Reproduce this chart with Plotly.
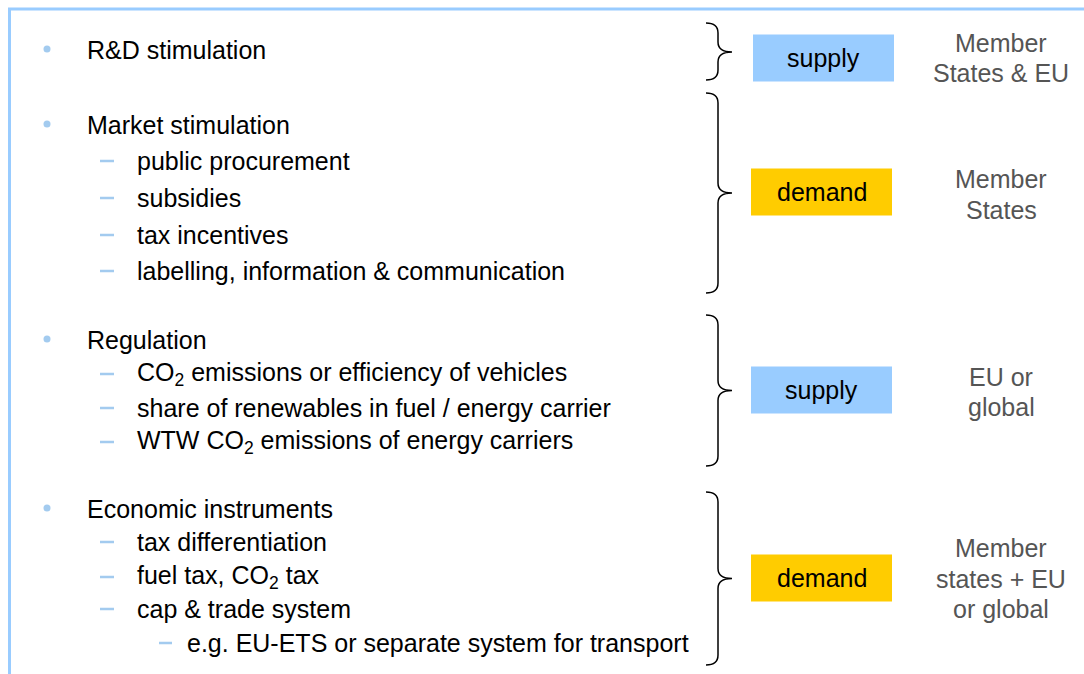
import plotly.graph_objects as go

# ---- content ----
groups = ["R&D stimulation", "Market stimulation", "Regulation", "Economic instruments"]
sub_items = [
    [],
    [("public procurement", 2), ("subsidies", 2), ("tax incentives", 2),
     ("labelling, information & communication", 2)],
    [("CO<sub>2</sub> emissions or efficiency of vehicles", 2),
     ("share of renewables in fuel / energy carrier", 2),
     ("WTW CO<sub>2</sub> emissions of energy carriers", 2)],
    [("tax differentiation", 2), ("fuel tax, CO<sub>2</sub> tax", 2),
     ("cap & trade system", 2), ("e.g. EU-ETS or separate system for transport", 3)],
]
box_labels = ["supply", "demand", "supply", "demand"]
scope_labels = [["Member", "States & EU"], ["Member", "States"], ["EU or", "global"],
                ["Member", "states + EU", "or global"]]

# ---- layout geometry (pixel space of the canvas) ----
W, H = 1084, 674
group_y = [50, 125, 340, 509]
sub_y = [[], [161, 198, 235, 271], [374, 408, 442], [542, 577, 609, 643]]
brace_span = [(23, 80), (93, 293), (315, 466), (492, 665)]
box_x = [(753, 894), (751, 892), (751, 892), (751, 892)]
box_mid = [58, 192, 390, 578]
scope_line_y = [[43, 73], [179, 210], [377, 407], [548, 579, 609]]

BLUE = "#99CCFF"
BULLET = "#A3CBEF"
GOLD = "#FFCC00"
FONT = "Liberation Sans, Arial, sans-serif"
FS = 25

fig = go.Figure()
shapes = []
ann = []

# frame
shapes.append(dict(type="line", x0=8, x1=W, y0=9, y1=9, line=dict(color=BLUE, width=3)))
shapes.append(dict(type="line", x0=9.5, x1=9.5, y0=8, y1=H, line=dict(color=BLUE, width=3)))

bx, by = [], []
for gi, g in enumerate(groups):
    y = group_y[gi]
    bx.append(47); by.append(y - 1)
    ann.append(dict(x=85, y=y, text=g, xanchor="left", yanchor="middle",
                    font=dict(size=FS, color="#000000", family=FONT)))
    for (txt, lvl), sy in zip(sub_items[gi], sub_y[gi]):
        if lvl == 2:
            dx0, dx1, tx = 100, 114, 135
        else:
            dx0, dx1, tx = 159, 172, 185
        shapes.append(dict(type="line", x0=dx0, x1=dx1, y0=sy, y1=sy,
                           line=dict(color=BULLET, width=2.5)))
        ann.append(dict(x=tx, y=sy, text=txt, xanchor="left", yanchor="middle",
                        font=dict(size=FS, color="#000000", family=FONT)))

    # brace
    y0, y1 = brace_span[gi]
    ym = (y0 + y1) / 2 if gi != 0 else 52
    xl, xv, xt = 706, 718, 732
    r = 10
    path = (f"M {xl},{y0} Q {xv},{y0} {xv},{y0 + r} L {xv},{ym - r} "
            f"Q {xv},{ym} {xt},{ym} Q {xv},{ym} {xv},{ym + r} "
            f"L {xv},{y1 - r} Q {xv},{y1} {xl},{y1}")
    shapes.append(dict(type="path", path=path, line=dict(color="#000000", width=1.5)))

    # box
    xa, xb = box_x[gi]
    col = BLUE if box_labels[gi] == "supply" else GOLD
    shapes.append(dict(type="rect", x0=xa, x1=xb, y0=box_mid[gi] - 23.5, y1=box_mid[gi] + 23.5,
                       fillcolor=col, line=dict(width=0), layer="below"))
    ann.append(dict(x=(xa + xb) / 2, y=box_mid[gi], text=box_labels[gi], xanchor="center",
                    yanchor="middle", font=dict(size=FS, color="#000000", family=FONT)))

    # scope (one annotation per line for tight line spacing)
    for line_txt, ly in zip(scope_labels[gi], scope_line_y[gi]):
        ann.append(dict(x=1001, y=ly, text=line_txt, xanchor="center",
                        yanchor="middle", align="center",
                        font=dict(size=FS, color="#555555", family=FONT)))

fig.add_trace(go.Scatter(x=bx, y=by, mode="markers",
                         marker=dict(size=7, color=BULLET), hoverinfo="skip",
                         showlegend=False))

for a in ann:
    a.update(showarrow=False, xref="x", yref="y")

fig.update_layout(
    width=W, height=H, margin=dict(l=0, r=0, t=0, b=0),
    paper_bgcolor="white", plot_bgcolor="white",
    xaxis=dict(range=[0, W], visible=False, fixedrange=True),
    yaxis=dict(range=[H, 0], visible=False, fixedrange=True),
    shapes=shapes, annotations=ann, showlegend=False,
)
fig.write_html("out.html", config={"displayModeBar": False},
               post_script="document.body.style.margin='0';document.body.style.overflow='hidden';")
